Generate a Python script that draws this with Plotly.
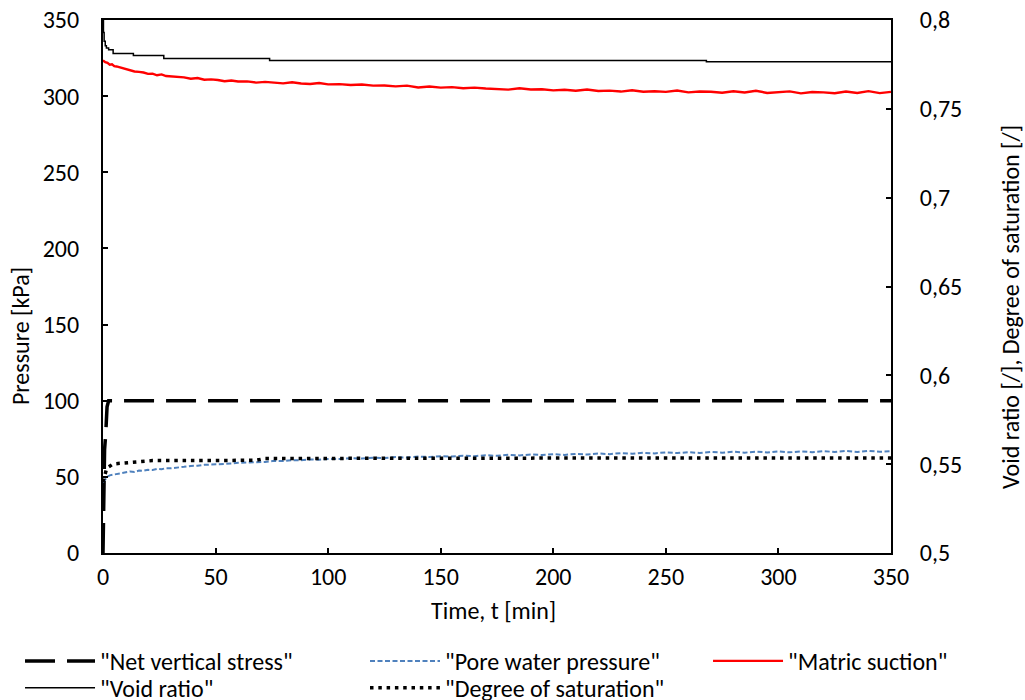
import plotly.graph_objects as go

# ---------------- data ----------------
t_nv = [0, 0.3, 0.7, 1.2, 1.8, 2.5, 350]
net_vertical_stress = [0, 45, 68, 78, 96, 100, 100]

t_grid = [0, 1, 2, 3, 4, 5, 6, 8, 10, 12, 14, 16, 18, 20, 22, 24, 26, 28, 30,
          33, 36, 39, 42, 45, 48, 51, 54, 57, 60, 64, 68, 72, 76, 80, 84, 88, 92, 96, 100,
          105, 110, 115, 120, 125, 130, 135, 140, 145, 150, 155, 160, 165, 170, 175, 180,
          185, 190, 195, 200, 205, 210, 215, 220, 225, 230, 235, 240, 245, 250, 255, 260,
          265, 270, 275, 280, 285, 290, 295, 300, 305, 310, 315, 320, 325, 330, 335, 340,
          345, 350]

matric_suction = [323.5, 322.3, 321.8, 320.6, 320.9, 319.7, 319.5,
                  318.6, 317.5, 316.9, 316.2, 315.9, 315.5, 314.6, 314.8, 313.7, 314.3, 313.2, 313.0,
                  312.6, 312.3, 311.4, 311.9, 310.8, 311.0, 310.6, 309.8, 310.3, 309.6,
                  309.7, 308.9, 309.4, 309.0, 308.4, 309.1, 308.3, 308.0, 308.6, 307.7,
                  307.9, 307.3, 307.6, 306.9, 307.0, 306.4, 306.9, 305.7, 306.3, 305.6,
                  305.9, 305.2, 305.6, 305.0, 304.8, 304.3, 305.2, 304.4, 304.5, 303.8,
                  304.2, 303.5, 304.4, 303.4, 303.6, 303.0, 303.9, 302.9, 303.2, 302.8,
                  303.7, 302.5, 303.0, 302.9, 302.2, 303.2, 302.4, 303.5, 302.1, 302.6,
                  303.1, 301.8, 302.7, 302.5, 301.9, 303.0, 302.1, 303.3, 302.0, 302.8]

pore_water_pressure = [46.5, 48.8, 50.2, 51.0, 51.3, 51.9, 52.0,
                       52.6, 52.9, 53.5, 53.2, 54.1, 54.0, 54.6, 54.5, 55.2, 55.0, 55.7, 55.6,
                       56.3, 56.6, 57.2, 57.3, 57.9, 58.0, 58.3, 58.6, 58.7, 59.2,
                       59.3, 59.9, 59.8, 60.5, 60.4, 61.0, 60.9, 61.4, 61.3, 61.8,
                       61.7, 62.3, 62.0, 62.6, 62.4, 63.0, 62.7, 63.3, 63.1, 63.6,
                       63.3, 63.9, 63.6, 64.2, 63.8, 64.5, 64.1, 64.7, 64.3, 64.9,
                       64.4, 65.1, 64.7, 65.4, 64.9, 65.6, 65.2, 65.8, 65.4, 66.1,
                       65.6, 66.2, 65.7, 66.4, 65.9, 66.5, 65.9, 66.6, 66.0, 66.7,
                       66.1, 66.7, 66.2, 66.9, 66.3, 67.0, 66.4, 67.1, 66.5, 66.8]

t_sr = [0, 0.5, 1, 1.5, 2, 3, 4, 5, 8, 12, 18, 22, 40, 60, 68, 72, 100, 150, 200, 250, 300, 350]
degree_of_saturation = [0.540, 0.543, 0.5455, 0.547, 0.548, 0.549, 0.5497, 0.5502, 0.5506,
                        0.551, 0.5515, 0.552, 0.552, 0.5521, 0.5522, 0.5532, 0.5533,
                        0.5534, 0.5534, 0.5535, 0.5535, 0.5535]

t_e = [0, 0.2, 0.5, 1, 1.5, 2.5, 4.5, 13.5, 27, 74, 268, 350]
void_ratio = [0.8, 0.793, 0.788, 0.7855, 0.7843, 0.7833, 0.7812, 0.7800, 0.7784,
              0.7772, 0.7765, 0.7765]

x_ticks = [0, 50, 100, 150, 200, 250, 300, 350]
y_ticks = [0, 50, 100, 150, 200, 250, 300, 350]
y2_ticks = [0.5, 0.55, 0.6, 0.65, 0.7, 0.75, 0.8]

FONT = "Carlito, Calibri, 'Open Sans', sans-serif"
TEXT_SIZE = 24
TICK_SIZE = 24

fig = go.Figure()
fig.add_trace(go.Scatter(x=t_nv, y=net_vertical_stress, mode="lines",
                         name='"Net vertical stress"', legend="legend",
                         line=dict(color="black", width=3.5, dash="30px,12px")))
fig.add_trace(go.Scatter(x=t_e, y=void_ratio, mode="lines", yaxis="y2",
                         name='"Void ratio"', legend="legend4", line_shape="hv",
                         line=dict(color="black", width=1.5)))
fig.add_trace(go.Scatter(x=t_grid, y=pore_water_pressure, mode="lines",
                         name='"Pore water pressure"', legend="legend2",
                         line=dict(color="#4F81BD", width=2, dash="5px,2.5px")))
fig.add_trace(go.Scatter(x=t_sr, y=degree_of_saturation, mode="lines", yaxis="y2",
                         name='"Degree of saturation"', legend="legend5",
                         line=dict(color="black", width=3.5, dash="3.5px,4.8px")))
fig.add_trace(go.Scatter(x=t_grid, y=matric_suction, mode="lines",
                         name='"Matric suction"', legend="legend3",
                         line=dict(color="#FF0000", width=2.4)))

axis_common = dict(showgrid=False, zeroline=False, showline=True, linecolor="black",
                   linewidth=2, ticks="inside", ticklen=5, tickwidth=1.5, tickcolor="black",
                   ticklabeloverflow="allow",
                   tickfont=dict(family=FONT, size=TICK_SIZE, color="black"))

legend_common = dict(orientation="v", xanchor="left", yanchor="top",
                     font=dict(family=FONT, size=TEXT_SIZE, color="black"),
                     bgcolor="rgba(0,0,0,0)", tracegroupgap=0, itemwidth=70)
ROW1, ROW2 = -0.161, -0.2115
COL1, COL2, COL3 = -0.1053, 0.3325, 0.7678

fig.update_layout(
    width=1025, height=700,
    margin=dict(l=103, r=134, t=20, b=147, autoexpand=False),
    plot_bgcolor="white", paper_bgcolor="white",
    separators=", ",
    showlegend=True,
    xaxis=dict(range=[0, 350], tickvals=x_ticks, mirror=True, ticklabelstandoff=1,
               **axis_common),
    yaxis=dict(range=[0, 350], tickvals=y_ticks, ticklabelstandoff=17, **axis_common),
    yaxis2=dict(range=[0.5, 0.8], tickvals=y2_ticks, overlaying="y", side="right",
                tickformat=".2~f", ticklabelstandoff=22, **axis_common),
    legend=dict(x=COL1, y=ROW1, **legend_common),
    legend2=dict(x=COL2, y=ROW1, **legend_common),
    legend3=dict(x=COL3, y=ROW1, **legend_common),
    legend4=dict(x=COL1, y=ROW2, **legend_common),
    legend5=dict(x=COL2, y=ROW2, **legend_common),
    annotations=[
        dict(text="Time, t [min]", xref="paper", yref="paper", x=0.496, y=-0.107,
             xanchor="center", yanchor="middle", showarrow=False,
             font=dict(family=FONT, size=TEXT_SIZE, color="black")),
        dict(text="Pressure [kPa]", xref="paper", yref="paper", x=-0.1053, y=0.407,
             xanchor="center", yanchor="middle", textangle=-90, showarrow=False,
             font=dict(family=FONT, size=TEXT_SIZE, color="black")),
        dict(text="Void ratio [/], Degree of saturation [/]", xref="paper", yref="paper",
             x=1.151, y=0.4615, xanchor="center", yanchor="middle", textangle=-90,
             showarrow=False, font=dict(family=FONT, size=TEXT_SIZE, color="black")),
    ],
)

# remove the default 8px page margin so the 1025x700 figure fills the window exactly
fig.write_html("out.html",
               config={"displayModeBar": False},
               post_script="document.body.style.margin='0px';"
                           "document.body.style.overflow='hidden';")
